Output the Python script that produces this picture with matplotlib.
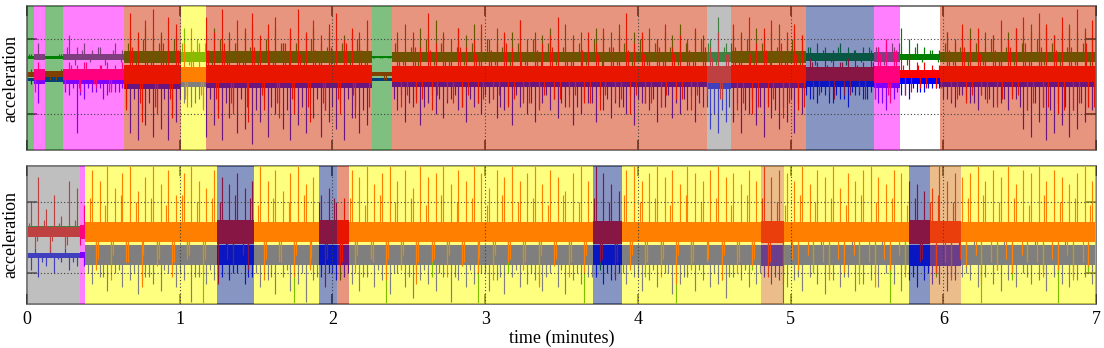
import numpy as np
import matplotlib
matplotlib.use("Agg")
import matplotlib.pyplot as plt

plt.rcParams["font.family"] = ["Liberation Serif", "DejaVu Serif"]

# ---------------- data ----------------
# activity segments (minutes) and their overlay colours
top_edges = [0, 0.046, 0.118, 0.236, 0.635, 1.008, 1.172, 2.259, 2.390, 4.453,
             4.610, 5.101, 5.547, 5.717, 5.979, 7.0]
top_kinds = ["green", "magenta", "green", "magenta", "salmon", "yellow", "salmon",
             "green", "salmon", "gray", "salmon", "blue", "magenta", "none", "salmon"]
bot_edges = [0, 0.347, 0.380, 1.244, 1.487, 1.912, 2.028, 2.109, 3.707, 3.897,
             4.807, 4.957, 5.776, 5.914, 6.117, 7.0]
bot_kinds = ["gray", "magenta", "yellow", "blue", "yellow", "blue", "salmon", "yellow",
             "blue", "yellow", "tan", "yellow", "blue", "tan", "yellow"]

# half-width of the dense noise band of each signal, per segment
top_red_band = [.06, .15, .08, .15, .25, .2, .24, .05, .21, .23, .24, .19, .23, .11, .21]
top_blue_band = [.05, .12, .06, .12, .25, .2, .23, .04, .19, .26, .23, .21, .23, .13, .21]
top_green_band = [.04, .09, .04, .09, .16, .14, .15, .03, .14, .14, .15, .11, .14, .09, .14]
bot_red_band = [.15, .19, .28, .34, .28, .34, .34, .28, .32, .28, .31, .28, .34, .31, .28]
bot_blue_band = [.07, .09, .28, .28, .28, .28, .28, .28, .28, .28, .3, .28, .3, .3, .28]
bot_green_band = [.06, .08, .13, .13, .13, .13, .13, .13, .13, .13, .13, .13, .13, .13, .13]

# band centres (acceleration units)
top_centers = {"green": 0.52, "red": 0.06, "blue": -0.08}
bot_centers = {"green": 0.27, "red": 0.15, "blue": -0.50}

# spike extremes (tenths of a unit), one per 0.05 min
top_red_up = [2, 4, 1, 1, 2, 4, 3, 4, 2, 3, 4, 3, 4, 17, 12, 15, 18, 11, 16, 14,
              9, 13, 8, 16, 12, 18, 10, 15, 13, 17, 11, 14, 16, 9, 13, 18, 12, 15, 11, 14,
              17, 10, 13, 12, 15, 1, 1, 1, 10, 7, 12, 8, 17, 9, 11, 6, 13, 8, 10, 14,
              7, 9, 12, 8, 15, 7, 10, 9, 11, 16, 8, 10, 7, 12, 9, 13, 8, 11, 17, 9,
              12, 7, 10, 14, 8, 11, 9, 13, 10, 8, 12, 6, 14, 11, 16, 9, 13, 15, 10, 12,
              14, 11, 5, 4, 6, 5, 4, 5, 6, 4, 5, 8, 10, 7, 5, 6, 4, 4, 3, 3,
              12, 9, 14, 10, 13, 8, 11, 15, 10, 13, 16, 12, 17, 14, 11, 16, 13, 18, 12, 15]
top_blue_down = [-2, -7, -1, -1, -1, -5, -15, -6, -4, -3, -5, -4, -3, -15, -17, -13, -16, -14, -17, -12,
                 -7, -8, -6, -16, -13, -17, -11, -15, -14, -18, -12, -16, -10, -14, -17, -13, -15, -11, -16, -12,
                 -14, -17, -11, -15, -13, -1, -1, -1, -9, -12, -8, -13, -7, -10, -11, -6, -9, -12, -8, -10,
                 -7, -11, -9, -13, -8, -10, -12, -7, -9, -11, -8, -13, -10, -7, -12, -9, -11, -8, -10, -13,
                 -7, -9, -12, -8, -11, -10, -9, -12, -8, -14, -15, -12, -12, -15, -10, -13, -16, -11, -14, -12,
                 -15, -10, -6, -7, -5, -7, -6, -8, -5, -6, -4, -7, -9, -6, -5, -6, -4, -4, -3, -3,
                 -6, -8, -5, -7, -9, -6, -8, -7, -9, -6, -14, -16, -12, -17, -15, -13, -16, -14, -12, -9]
top_green_up = [6, 9, 5, 5, 6, 11, 8, 9, 7, 8, 6, 9, 7, 12, 10, 13, 11, 12, 10, 11,
                13, 10, 9, 11, 13, 10, 12, 9, 12, 14, 10, 11, 13, 9, 12, 10, 11, 13, 9, 12,
                10, 11, 12, 9, 10, 5, 5, 5, 12, 14, 10, 13, 11, 15, 12, 10, 13, 11, 14, 12,
                10, 13, 11, 12, 15, 10, 12, 11, 13, 10, 14, 11, 12, 10, 13, 11, 12, 14, 10, 12,
                11, 13, 10, 12, 11, 14, 10, 12, 11, 10, 16, 9, 11, 12, 10, 13, 11, 12, 14, 10,
                12, 11, 8, 9, 8, 7, 9, 8, 7, 8, 7, 8, 9, 8, 13, 10, 9, 8, 7, 7,
                12, 10, 11, 13, 10, 12, 11, 10, 12, 13, 11, 14, 12, 13, 11, 12, 14, 12, 13, 11]
# shorter excursions just outside the dense band, one per 0.05 min (offset)
top_red_fringe = [1, -1, 1, -1, 1, 3, -3, 4, -2, 3, -4, 2, -3, 8, -7, 6, -8, 9, -6, 7,
                  -6, 7, -5, 7, -6, 9, -7, 6, -8, 8, -5, 7, -7, 9, -6, 6, -8, 7, -7, 8,
                  -6, 9, -5, 7, -8, 1, -1, 1, 6, -5, 8, -6, 7, -5, 6, -7, 8, -5, 6, -6,
                  7, -5, 9, -6, 6, -7, 7, -5, 8, -6, 6, -5, 7, -7, 6, -5, 8, -6, 7, -5,
                  6, -7, 8, -5, 6, -6, 7, -5, 8, 5, -6, 6, 8, -7, 6, -8, 7, -6, 9, -7,
                  6, -8, 4, -5, 3, -6, 4, -5, 3, -6, 4, 6, -5, 7, 3, -4, 3, -3, 2, -3,
                  7, -6, 8, -5, 6, -7, 7, -6, 8, -5, 9, -7, 8, -8, 7, -9, 8, -7, 9, -8]
top_blue_fringe = [-1, -1, -1, -1, -1, -4, -3, -5, -3, -4, -6, -3, -4, -8, -6, -9, -7, -8, -6, -9,
                   -6, -5, -7, -8, -6, -9, -7, -8, -6, -7, -9, -6, -8, -7, -9, -6, -8, -7, -6,
                   -9, -8, -7, -6, -8, -9, -1, -1, -1, -6, -5, -7, -6, -8, -5, -6, -7, -5, -8,
                   -6, -7, -5, -6, -8, -7, -5, -6, -7, -8, -5, -6, -7, -5, -8, -6, -7, -5, -6, -7,
                   -8, -5, -6, -7, -6, -8, -5, -7, -6, -5, -7, -8, -10, -9, -8, -7, -9, -6, -8, -7,
                   -9, -8, -6, -7, -5, -6, -4, -7, -5, -6, -4, -5, -6, -6, -7, -5, -4, -5, -3, -4,
                   -3, -3, -6, -7, -5, -6, -7, -5, -6, -7, -6, -5, -8, -9, -7, -8, -9, -7, -8, -9,
                   -7, -8]
top_green_fringe = [6, 5, 5, 5, 6, 8, 3, 7, 4, 8, 3, 7, 4, 9, 2, 10, 3, 9, 2, 10,
                    9, 3, 10, 9, 3, 10, 2, 9, 3, 8, 2, 10, 3, 9, 2, 9, 3, 10, 2, 8,
                    3, 9, 2, 10, 3, 5, 5, 5, 9, 3, 8, 2, 10, 3, 9, 2, 8, 3, 9, 2,
                    10, 3, 8, 2, 9, 3, 10, 2, 9, 3, 8, 2, 9, 3, 10, 2, 8, 3, 9, 2,
                    10, 3, 9, 2, 8, 3, 9, 2, 10, 9, 3, 8, 9, 2, 10, 3, 9, 2, 8, 3,
                    10, 2, 8, 3, 7, 4, 8, 3, 7, 4, 8, 8, 3, 9, 9, 3, 8, 4, 7, 4,
                    9, 3, 8, 2, 9, 3, 10, 2, 8, 3, 9, 2, 10, 3, 9, 2, 8, 3, 9, 2]
# one per 0.1 min
top_red_down = [-4, -1, -3, -4, -3, -4, -9, -12, -10, -11, -8, -9, -11, -10, -12, -9, -11, -10, -12, -9,
                -10, -11, -2, -1, -8, -7, -9, -6, -8, -7, -6, -8, -7, -9, -6, -8, -7, -9, -6, -10,
                -7, -8, -6, -9, -5, -6, -9, -10, -8, -11, -9, -5, -4, -5, -4, -6, -7, -5, -3, -3,
                -6, -7, -5, -8, -6, -9, -8, -10, -9, -8]

bot_red_up = [10, 17, 8, 12, 6, 16, 14, 9, 19, 16, 20, 14, 18, 20, 13, 17, 20, 15, 19, 12,
              18, 20, 16, 14, 19, 17, 15, 18, 14, 16, 20, 16, 19, 13, 18, 20, 15, 17, 12, 14,
              10, 11, 19, 17, 20, 15, 18, 20, 16, 19, 14, 20, 17, 18, 20, 15, 19, 16, 20, 18,
              14, 19, 17, 20, 16, 18, 20, 15, 19, 17, 13, 18, 20, 16, 20, 18, 15, 13, 19, 20,
              16, 18, 20, 17, 19, 15, 20, 18, 16, 19, 20, 17, 18, 15, 19, 16, 20, 17, 19, 18,
              16, 20, 15, 19, 17, 20, 14, 18, 16, 19, 20, 17, 15, 19, 18, 16, 15, 13, 14, 20,
              16, 18, 17, 18, 20, 16, 19, 17, 20, 15, 19, 18, 20, 16, 19, 17, 15, 18, 20, 16]
bot_blue_down = [-9, -11, -8, -10, -7, -9, -8, -8, -13, -11, -15, -10, -14, -12, -16, -11, -13, -15, -10, -14,
                 -12, -18, -11, -13, -12, -11, -12, -10, -13, -11, -14, -12, -16, -11, -15, -13, -18, -12, -11, -10,
                 -12, -11, -13, -15, -11, -14, -12, -16, -10, -14, -17, -12, -13, -15, -11, -18, -12, -14, -13, -10,
                 -15, -12, -16, -11, -14, -13, -12, -15, -10, -14, -16, -12, -13, -11, -11, -13, -12, -10, -13, -11,
                 -15, -12, -14, -10, -16, -13, -11, -15, -12, -14, -13, -17, -11, -12, -14, -13, -11, -13, -12, -14,
                 -12, -15, -11, -13, -16, -12, -14, -11, -15, -13, -12, -14, -10, -13, -15, -12, -14, -12, -13, -13,
                 -15, -12, -11, -12, -14, -11, -13, -15, -12, -14, -10, -13, -12, -15, -11, -13, -14, -12, -11, -13]
bot_red_fringe = [4, -1, 5, -1, 4, -2, 5, 3, 11, -6, 9, -5, 12, -7, 10, -5, 11, -6, 9, -7,
                  12, -5, 10, -6, 11, 10, -6, 12, -5, 11, 9, -6, 11, -7, 10, -5, 12, -6, 10, -6,
                  11, -7, 11, -5, 9, -7, 12, -6, 10, -5, 11, -7, 9, -6, 12, -5, 10, -7, 11, -6,
                  9, -5, 12, -6, 10, -7, 11, -5, 9, -6, 12, -7, 10, -5, 11, -6, 10, -7, 12, -5,
                  10, -7, 11, -6, 9, -5, 12, -7, 10, -6, 11, -5, 9, -7, 12, -6, 11, -7, 10, 9,
                  -6, 12, -5, 10, -7, 11, -6, 9, -5, 12, -7, 10, -6, 11, -5, 9, 11, -6, 10, 12,
                  -7, 10, -6, 11, -5, 12, -7, 10, -6, 11, -5, 9, -7, 12, -6, 10, -5, 11, -7, 9]
bot_blue_fringe = [-6, -3, -7, -2, -6, -3, -7, -5, -10, -1, -11, -2, -9, -1, -10, -2, -11, -1, -9, -2,
                   -10, -1, -11, -2, -9, -11, -1, -10, -2, -11, -10, -1, -11, -2, -9, -1, -10, -2, -11, -1,
                   -10, -2, -10, -1, -11, -2, -9, -1, -10, -2, -11, -1, -9, -2, -10, -1, -11, -2, -9, -1,
                   -10, -2, -11, -1, -9, -2, -10, -1, -11, -2, -9, -1, -10, -2, -11, -1, -10, -2, -10, -1,
                   -11, -2, -9, -1, -10, -2, -11, -1, -9, -2, -10, -1, -11, -2, -9, -1, -10, -2, -11, -10,
                   -1, -11, -2, -9, -1, -10, -2, -11, -1, -9, -2, -10, -1, -11, -2, -9, -11, -1, -10, -10,
                   -2, -11, -1, -10, -1, -11, -2, -9, -1, -10, -2, -11, -1, -9, -2, -10, -1, -11, -2, -9]
# one per 0.1 min
bot_red_down = [-3, -4, -3, -2, -9, -12, -7, -14, -8, -11, -6, -10, -13, -8, -9, -12, -7, -11, -9, -14,
                -8, -10, -6, -12, -9, -13, -7, -11, -8, -10, -12, -7, -9, -14, -8, -11, -10, -7, -12, -9,
                -8, -11, -13, -9, -7, -12, -10, -8, -11, -13, -9, -7, -12, -10, -8, -14, -9, -11, -7, -10,
                -12, -8, -13, -9, -10, -7, -11, -9, -12, -8]
bot_green_down = [2, 1, 2, 1, -5, -8, -4, -12, -6, -9, -5, -19, -7, -6, -4, -10, -5, -19, -8, -6,
                  -12, -7, -5, -19, -6, -9, -11, -5, -8, -19, -7, -10, -6, -13, -5, -8, -19, -9, -6, -4,
                  -11, -7, -19, -8, -6, -12, -5, -9, -7, -19, -6, -10, -8, -5, -13, -7, -19, -9, -6, -11,
                  -8, -5, -19, -7, -12, -6, -9, -19, -8, -10]

x_ticks = [0, 1, 2, 3, 4, 5, 6, 7]

# ---------------- styling ----------------
overlay = {"green": "#008000", "magenta": "#ff00ff", "salmon": "#d22d00",
           "yellow": "#ffff00", "gray": "#808080", "blue": "#112d89",
           "tan": "#d77d19", "none": None}
line_col = {"red": "#ff0000", "green": "#008000", "blue": "#0000ff"}

W, H = 1104, 348
fig = plt.figure(figsize=(W / 100, H / 100), dpi=100)
ax1 = fig.add_axes([27 / W, 1 - 150 / H, 1069 / W, 144 / H])
ax2 = fig.add_axes([27 / W, 1 - 304 / H, 1069 / W, 138 / H])


def sample_times(n, step, offset):
    return np.arange(n) * step + offset


def band(ax, edges, center, hw, color):
    hw = np.asarray(list(hw) + [hw[-1]])
    ax.fill_between(edges, center - hw, center + hw, step="post", color=color,
                    lw=0, zorder=1)


def spikes(ax, base, vals, color, step=0.05, offset=0.025, lw=0.85):
    t = sample_times(len(vals), step, offset)
    ax.vlines(t, base, np.asarray(vals) / 10.0, color=color, lw=lw, zorder=1)


# top panel signals
c = top_centers
band(ax1, top_edges, c["blue"], top_blue_band, line_col["blue"])
spikes(ax1, c["blue"], top_blue_down, line_col["blue"])
spikes(ax1, c["blue"], top_blue_fringe, line_col["blue"], offset=0.0)
band(ax1, top_edges, c["green"], top_green_band, line_col["green"])
spikes(ax1, c["green"], top_green_up, line_col["green"])
spikes(ax1, c["green"], top_green_fringe, line_col["green"], offset=0.0125)
band(ax1, top_edges, c["red"], top_red_band, line_col["red"])
spikes(ax1, c["red"], top_red_up, line_col["red"])
spikes(ax1, c["red"], top_red_fringe, line_col["red"], offset=0.0375)
spikes(ax1, c["red"], top_red_down, line_col["red"], step=0.1, offset=0.05)

# bottom panel signals
c = bot_centers
band(ax2, bot_edges, c["blue"], bot_blue_band, line_col["blue"])
spikes(ax2, c["blue"], bot_blue_down, line_col["blue"])
spikes(ax2, c["blue"], bot_blue_fringe, line_col["blue"], offset=0.0)
band(ax2, bot_edges, c["green"], bot_green_band, line_col["green"])
spikes(ax2, c["green"], bot_green_down, line_col["green"], step=0.1, offset=0.05)
band(ax2, bot_edges, c["red"], bot_red_band, line_col["red"])
spikes(ax2, c["red"], bot_red_up, line_col["red"])
spikes(ax2, c["red"], bot_red_fringe, line_col["red"], offset=0.0125)
spikes(ax2, c["red"], bot_red_down, line_col["red"], step=0.1, offset=0.05)

for ax, edges, kinds, ylim in [(ax1, top_edges, top_kinds, (-1.96, 1.88)),
                               (ax2, bot_edges, bot_kinds, (-1.87, 2.01))]:
    for k, kind in enumerate(kinds):
        if overlay[kind] is not None:
            ax.axvspan(edges[k], edges[k + 1], color=overlay[kind], alpha=0.5,
                       lw=0, zorder=3)
    ax.set_xlim(0, 7)
    ax.set_ylim(*ylim)
    for yv in (-1, 1):
        ax.axhline(yv, ls=(0, (1, 2)), color="#404040", lw=0.8, zorder=4)
    for xv in x_ticks[1:-1]:
        ax.axvline(xv, ls=(0, (1, 2)), color="#404040", lw=0.8, zorder=4)
    ax.set_xticks(x_ticks)
    ax.set_yticks([-1, 1])
    ax.set_yticklabels([])
    ax.set_axisbelow(False)
    ax.tick_params(direction="in", length=7, width=1.2, color="#303030",
                   top=True, right=True, labelsize=13, pad=5)
    for s in ax.spines.values():
        s.set_color("#707070")
        s.set_linewidth(1.3)
        s.set_zorder(2.5)
    ax.set_ylabel("acceleration", fontsize=13)
    ax.yaxis.set_label_coords(-0.0075, 0.5)

ax1.set_xticklabels([])
ax2.set_xlabel("time (minutes)", fontsize=13, labelpad=1)

fig.savefig("out.png", dpi=100)
